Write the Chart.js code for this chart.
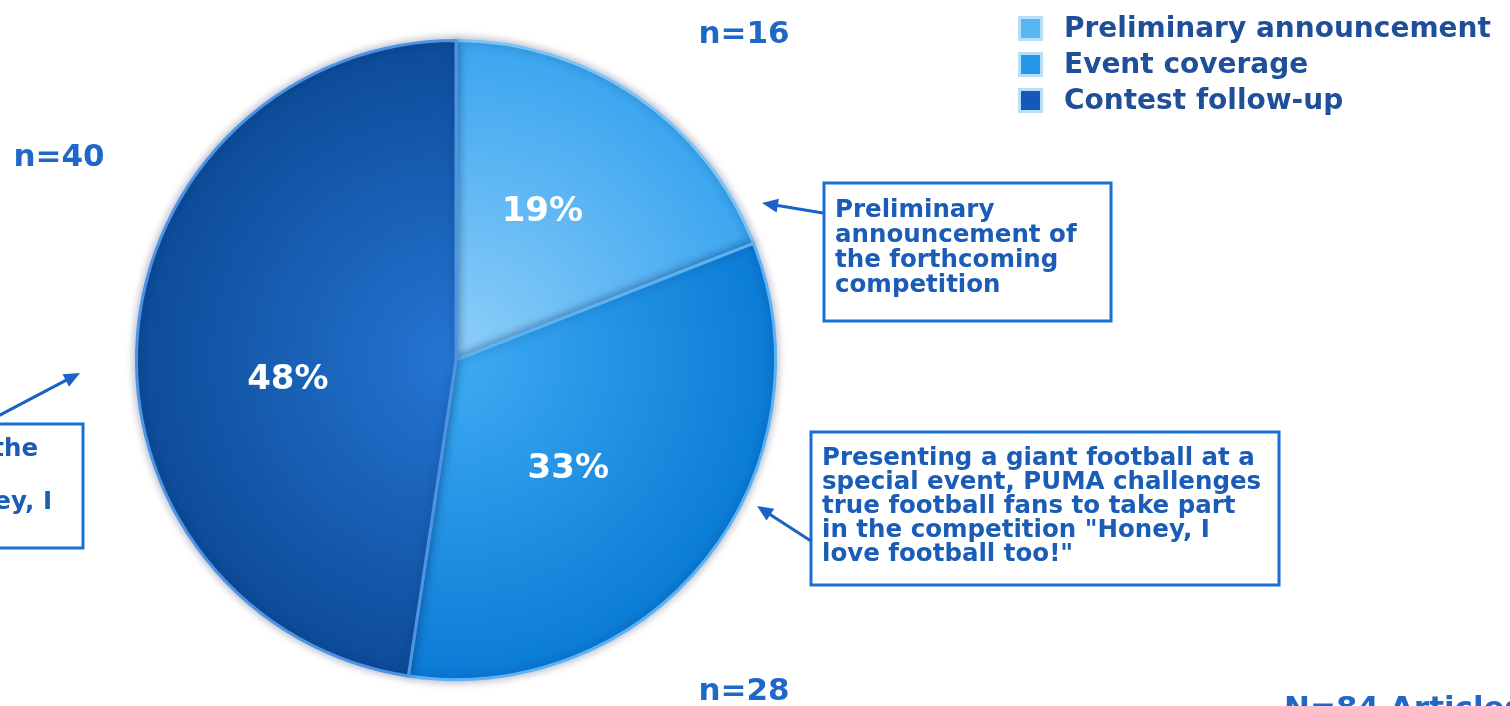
<!DOCTYPE html>
<html>
<head>
<meta charset="utf-8">
<script src="https://cdn.jsdelivr.net/npm/chart.js@4/dist/chart.umd.min.js"></script>
<style>
  html, body { margin: 0; padding: 0; background: #ffffff; }
  #wrap { width: 1510px; height: 706px; position: relative; }
</style>
</head>
<body>
<div id="wrap"><canvas id="pieChart" width="1510" height="706"></canvas></div>
<script>
// dados
const categories = ['Preliminary announcement', 'Event coverage', 'Contest follow-up'];
const counts = [16, 28, 40];
const totalLabel = 'N=84 Articles';
const calloutPrelim = ['Preliminary', 'announcement of', 'the forthcoming', 'competition'];
const calloutEvent = ['Presenting a giant football at a', 'special event, PUMA challenges',
  'true football fans to take part', 'in the competition "Honey, I', 'love football too!"'];
const calloutFollow = ['the', 'ey, I'];

const total = counts.reduce((a, b) => a + b, 0);
const FONT = '"DejaVu Sans", Verdana, sans-serif';

// cores das fatias: [centro, borda]
const sliceStops = [
  ['#8fcff9', '#3aa5ef'],
  ['#3eabf3', '#0a7bd5'],
  ['#2576d4', '#0d4b98']
];
const legendColors = ['#58b6f2', '#2597e8', '#1458b8'];

function sliceGradient(context) {
  const chart = context.chart;
  const ca = chart.chartArea;
  const stops = sliceStops[context.dataIndex];
  if (!ca) return stops[1];
  const cx = (ca.left + ca.right) / 2;
  const cy = (ca.top + ca.bottom) / 2;
  const r = Math.min(ca.width, ca.height) / 2;
  const g = chart.ctx.createRadialGradient(cx, cy, 0, cx, cy, r);
  g.addColorStop(0, stops[0]);
  g.addColorStop(1, stops[1]);
  return g;
}

function arrow(ctx, x1, y1, x2, y2, color) {
  const ang = Math.atan2(y2 - y1, x2 - x1);
  const len = 16, wid = 7;
  ctx.strokeStyle = color;
  ctx.fillStyle = color;
  ctx.lineWidth = 3;
  ctx.beginPath();
  ctx.moveTo(x1, y1);
  ctx.lineTo(x2 - Math.cos(ang) * len * 0.8, y2 - Math.sin(ang) * len * 0.8);
  ctx.stroke();
  ctx.beginPath();
  ctx.moveTo(x2, y2);
  ctx.lineTo(x2 - Math.cos(ang) * len - Math.sin(ang) * wid, y2 - Math.sin(ang) * len + Math.cos(ang) * wid);
  ctx.lineTo(x2 - Math.cos(ang) * len + Math.sin(ang) * wid, y2 - Math.sin(ang) * len - Math.cos(ang) * wid);
  ctx.closePath();
  ctx.fill();
}

function callout(ctx, x, y, w, h, lines, tx, ty, lh) {
  ctx.strokeStyle = '#1a6fd6';
  ctx.lineWidth = 3;
  ctx.strokeRect(x, y, w, h);
  ctx.fillStyle = '#1a5cb6';
  ctx.font = 'bold 24.5px ' + FONT;
  ctx.textAlign = 'left';
  ctx.textBaseline = 'middle';
  lines.forEach((t, i) => ctx.fillText(t, tx, ty + i * lh));
}

// sombra da pizza
const shadowPlugin = {
  id: 'pieShadow',
  beforeDatasetsDraw(chart) {
    const ctx = chart.ctx;
    ctx.save();
    ctx.shadowColor = 'rgba(0, 30, 80, 0.35)';
    ctx.shadowBlur = 10;
  },
  afterDatasetsDraw(chart) {
    chart.ctx.restore();
  }
};

const annotationPlugin = {
  id: 'annotations',
  afterDraw(chart) {
    const ctx = chart.ctx;
    const meta = chart.getDatasetMeta(0);
    ctx.save();

    // rótulos de percentagem
    const tweak = [{ da: -4, f: 0.536 }, { da: 5.6, f: 0.49 }, { da: -11, f: 0.53 }];
    ctx.font = 'bold 34px ' + FONT;
    ctx.fillStyle = '#ffffff';
    ctx.textAlign = 'center';
    ctx.textBaseline = 'middle';
    meta.data.forEach((arc, i) => {
      const mid = (arc.startAngle + arc.endAngle) / 2 + tweak[i].da * Math.PI / 180;
      const r = arc.outerRadius * tweak[i].f;
      const pct = Math.round(counts[i] / total * 100) + '%';
      ctx.fillText(pct, arc.x + Math.cos(mid) * r, arc.y + Math.sin(mid) * r);
    });

    // n= rótulos
    ctx.fillStyle = '#2068c8';
    ctx.font = 'bold 31px ' + FONT;
    ctx.fillText('n=' + counts[0], 744, 35);
    ctx.fillText('n=' + counts[1], 744, 692);
    ctx.fillText('n=' + counts[2], 59, 158);
    ctx.textAlign = 'left';
    ctx.fillText(totalLabel, 1284, 710);

    // legenda
    ctx.font = 'bold 28px ' + FONT;
    categories.forEach((c, i) => {
      const y = 29 + i * 36;
      ctx.fillStyle = '#b8dff8';
      ctx.fillRect(1018, y - 13, 25, 25);
      ctx.fillStyle = legendColors[i];
      ctx.fillRect(1021, y - 10, 19, 19);
      ctx.fillStyle = '#1f4f99';
      ctx.textAlign = 'left';
      ctx.textBaseline = 'middle';
      ctx.fillText(c, 1064, y + 1);
    });

    // caixas de chamada
    callout(ctx, 824, 183, 287, 138, calloutPrelim, 835, 211, 25);
    arrow(ctx, 823, 213, 762, 203, '#1a62c8');
    callout(ctx, 811, 432, 468, 153, calloutEvent, 822, 459, 24);
    arrow(ctx, 811, 541, 757, 506, '#1a62c8');

    ctx.strokeStyle = '#1a6fd6';
    ctx.lineWidth = 3;
    ctx.strokeRect(-10, 424, 93, 124);
    ctx.fillStyle = '#1a5cb6';
    ctx.font = 'bold 24.5px ' + FONT;
    ctx.textAlign = 'right';
    ctx.fillText(calloutFollow[0], 38, 450);
    ctx.fillText(calloutFollow[1], 52, 503);
    arrow(ctx, -2, 416, 80, 373, '#1a62c8');

    ctx.restore();
  }
};

const ctxPie = document.getElementById('pieChart').getContext('2d');
new Chart(ctxPie, {
  type: 'pie',
  data: {
    labels: categories,
    datasets: [{
      data: counts,
      backgroundColor: sliceGradient,
      borderColor: ['#7cc4f6', '#5cb2f2', '#4f94e4'],
      borderWidth: 3
    }]
  },
  options: {
    responsive: false,
    animation: false,
    devicePixelRatio: 1,
    layout: { padding: { left: 135, right: 733, top: 39, bottom: 25 } },
    plugins: {
      legend: { display: false },
      tooltip: { enabled: false }
    }
  },
  plugins: [shadowPlugin, annotationPlugin]
});
</script>
</body>
</html>
